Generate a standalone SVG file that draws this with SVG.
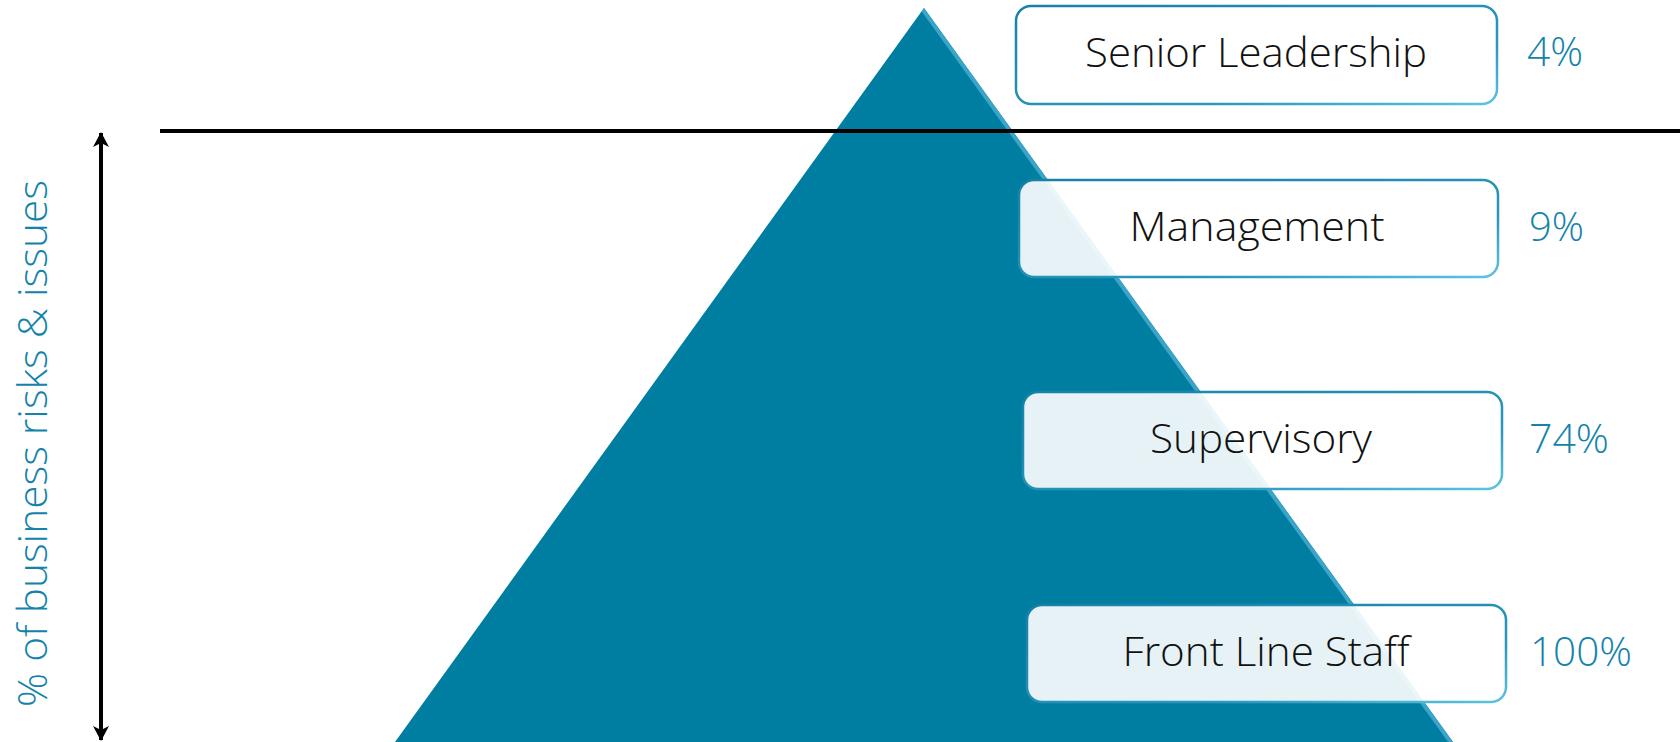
<svg xmlns="http://www.w3.org/2000/svg" width="1680" height="742" viewBox="0 0 1680 742">
  <defs>
    <style>
      .label { font-family: "Open Sans", "Noto Sans", "Liberation Sans", sans-serif; font-weight: 300; font-size: 40px; fill: #111111; text-anchor: middle; }
      .pct { font-family: "Open Sans", "Noto Sans", "Liberation Sans", sans-serif; font-weight: 300; font-size: 40px; fill: #1483ab; }
      .axis-title { font-family: "Open Sans", "Noto Sans", "Liberation Sans", sans-serif; font-weight: 300; font-size: 40px; fill: #1483ab; }
      .box { fill: #ffffff; fill-opacity: 0.9; stroke: url(#boxEdge); stroke-width: 2.5; }
    </style>
    <linearGradient id="boxEdge" x1="0" y1="0" x2="1" y2="1">
      <stop offset="0" stop-color="#1681a8"/>
      <stop offset="0.7" stop-color="#2a97bd"/>
      <stop offset="1" stop-color="#5cc3e0"/>
    </linearGradient>
    <clipPath id="pyramidClip">
      <polygon points="924,8 395,742 1453,742"/>
    </clipPath>
    <marker id="stealth" viewBox="0 0 16 16" refX="14" refY="8" markerWidth="16" markerHeight="16" markerUnits="userSpaceOnUse" orient="auto-start-reverse">
      <path d="M0,0 L15,8 L0,16 L4,8 Z" fill="#000000"/>
    </marker>
  </defs>

  <rect width="1680" height="742" fill="#ffffff"/>

  <!-- pyramid with a lit right-hand bevel -->
  <g id="pyramid">
    <polygon points="924,8 395,742 1453,742" fill="#007ea1"/>
    <line x1="924" y1="8" x2="1453" y2="742" stroke="#3aa4c9" stroke-width="8" clip-path="url(#pyramidClip)"/>
  </g>

  <!-- divider between senior leadership and the rest -->
  <g id="divider">
    <line x1="160" y1="132.5" x2="1680" y2="132.5" stroke="#9a9a9a" stroke-width="1"/>
    <line x1="160" y1="131" x2="1680" y2="131" stroke="#000000" stroke-width="4"/>
  </g>

  <g id="connectors">
    <line x1="101" y1="133" x2="101" y2="740" stroke="#000000" stroke-width="4" marker-start="url(#stealth)" marker-end="url(#stealth)"/>
  </g>

  <text class="axis-title" transform="translate(47,707) rotate(-90)" x="0" y="0" textLength="527" lengthAdjust="spacingAndGlyphs">% of business risks &amp; issues</text>

  <g id="senior-leadership">
    <rect class="box" x="1016" y="6" width="481" height="98" rx="15" ry="15"/>
    <text class="label" x="1256" y="67" textLength="342" lengthAdjust="spacingAndGlyphs">Senior Leadership</text>
    <text class="pct" x="1527" y="66" textLength="56" lengthAdjust="spacingAndGlyphs">4%</text>
  </g>

  <g id="management">
    <rect class="box" x="1019" y="180" width="479" height="97" rx="15" ry="15"/>
    <text class="label" x="1257" y="241" textLength="255" lengthAdjust="spacingAndGlyphs">Management</text>
    <text class="pct" x="1529" y="241" textLength="55" lengthAdjust="spacingAndGlyphs">9%</text>
  </g>

  <g id="supervisory">
    <rect class="box" x="1023" y="392" width="479" height="97" rx="15" ry="15"/>
    <text class="label" x="1261" y="453" textLength="222" lengthAdjust="spacingAndGlyphs">Supervisory</text>
    <text class="pct" x="1529" y="453" textLength="80" lengthAdjust="spacingAndGlyphs">74%</text>
  </g>

  <g id="front-line-staff">
    <rect class="box" x="1027" y="605" width="479" height="97" rx="15" ry="15"/>
    <text class="label" x="1266" y="666" textLength="287" lengthAdjust="spacingAndGlyphs">Front Line Staff</text>
    <text class="pct" x="1530" y="666" textLength="102" lengthAdjust="spacingAndGlyphs">100%</text>
  </g>
</svg>
